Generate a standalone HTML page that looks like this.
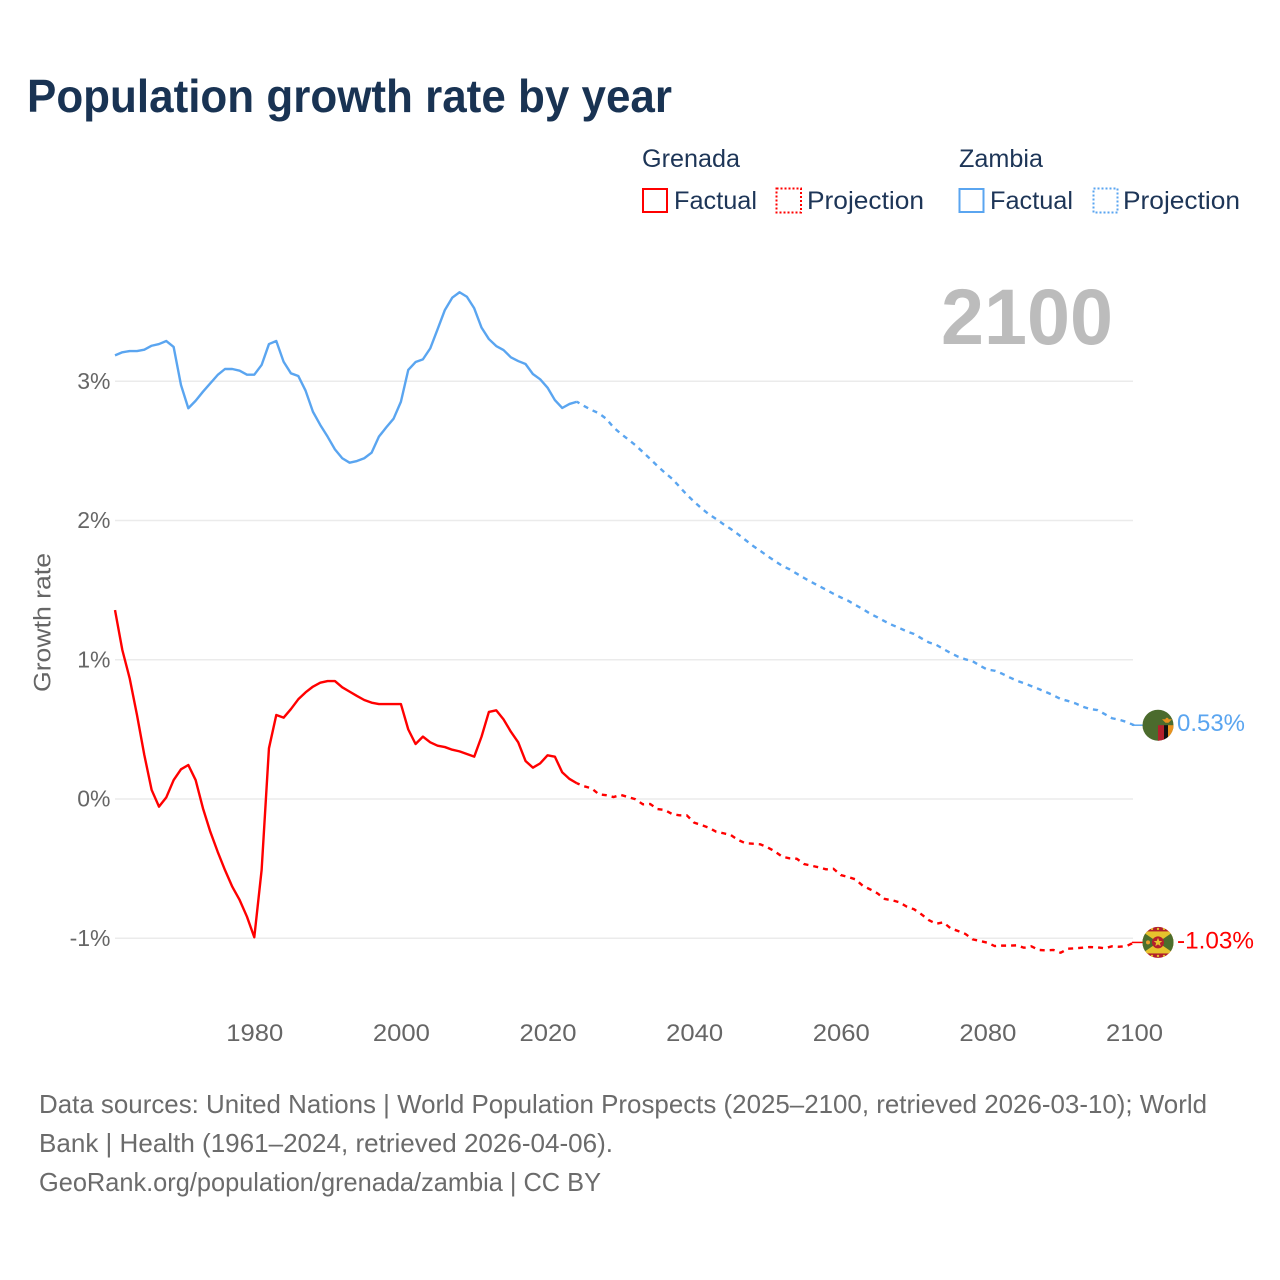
<!DOCTYPE html>
<html lang="en">
<head>
<meta charset="utf-8">
<title>Population growth rate by year</title>
<style>
html,body{margin:0;padding:0;background:#fff;}
svg{display:block;font-family:"Liberation Sans",sans-serif;}
</style>
</head>
<body>
<svg id="chart" width="1280" height="1280" viewBox="0 0 1280 1280" xmlns="http://www.w3.org/2000/svg">
  <defs>
    <clipPath id="flag-clip"><circle cx="0" cy="0" r="15.5"></circle></clipPath>
  </defs>
  <rect x="0" y="0" width="1280" height="1280" fill="#fff"></rect>
  <text x="27" y="112" font-size="46" font-weight="700" fill="#193353" textLength="645" lengthAdjust="spacingAndGlyphs">Population growth rate by year</text>

  <g font-size="25" fill="#1d3557">
    <text x="642" y="167" textLength="98" lengthAdjust="spacingAndGlyphs">Grenada</text>
    <text x="959" y="167" textLength="84" lengthAdjust="spacingAndGlyphs">Zambia</text>
    <rect x="643" y="189" width="24" height="23" fill="none" stroke="#ff0000" stroke-width="2"></rect>
    <text x="674" y="209" textLength="83" lengthAdjust="spacingAndGlyphs">Factual</text>
    <rect x="776.5" y="188.5" width="24.5" height="24" fill="none" stroke="#ff0000" stroke-width="2" stroke-dasharray="2 2"></rect>
    <text x="807" y="209" textLength="117" lengthAdjust="spacingAndGlyphs">Projection</text>
    <rect x="959.5" y="189" width="24" height="23" fill="none" stroke="#5aa5f0" stroke-width="2"></rect>
    <text x="990" y="209" textLength="83" lengthAdjust="spacingAndGlyphs">Factual</text>
    <rect x="1093.5" y="188.5" width="24" height="24" fill="none" stroke="#5aa5f0" stroke-width="2" stroke-dasharray="2 2"></rect>
    <text x="1123" y="209" textLength="117" lengthAdjust="spacingAndGlyphs">Projection</text>
  </g>

  <g id="grid"></g>
  <g id="y-ticks"></g>
  <g id="x-ticks"></g>
  <text transform="translate(50.5,692) rotate(-90)" x="0" y="0" font-size="24" fill="#666" textLength="139" lengthAdjust="spacingAndGlyphs">Growth rate</text>
  <text x="941" y="344" font-size="79" font-weight="700" fill="#bcbcbc" textLength="172" lengthAdjust="spacingAndGlyphs">2100</text>

  <g id="series"></g>

  <g id="flag-zambia">
    <g clip-path="url(#flag-clip)">
      <rect x="-16" y="-16" width="32" height="32" fill="#4b6b2d"></rect>
      <rect x="0" y="0" width="6" height="16" fill="#b3202c"></rect>
      <rect x="6" y="0" width="4" height="16" fill="#111"></rect>
      <rect x="10" y="0" width="6" height="16" fill="#e8921f"></rect>
      <path d="M4 -6 L14 -6 L10.5 -2.5 L7.5 -2.5 Z" fill="#e8921f"></path>
      <circle cx="9" cy="-6" r="1.5" fill="#e8921f"></circle>
    </g>
  </g>
  <g id="flag-grenada">
    <g clip-path="url(#flag-clip)">
      <rect x="-16" y="-16" width="32" height="32" fill="#b3202c"></rect>
      <rect x="-16" y="-11" width="32" height="22" fill="#e6c32d"></rect>
      <path d="M-16 -11 L0 0 L-16 11 Z" fill="#4b6e2d"></path>
      <path d="M16 -11 L0 0 L16 11 Z" fill="#4b6e2d"></path>
      <circle cx="0" cy="0" r="6" fill="#b3202c"></circle>
      <path d="M0 -4.5 L1.3 -1.4 L4.3 -1.4 L1.9 0.6 L2.7 3.7 L0 2 L-2.7 3.7 L-1.9 0.6 L-4.3 -1.4 L-1.3 -1.4 Z" fill="#e6c32d"></path>
      <circle cx="-10" cy="0" r="2" fill="#e6a02d"></circle>
      <circle cx="0" cy="-13.5" r="1.2" fill="#e6c32d"></circle>
      <circle cx="-6" cy="-13.5" r="1.2" fill="#e6c32d"></circle>
      <circle cx="6" cy="-13.5" r="1.2" fill="#e6c32d"></circle>
      <circle cx="0" cy="13.5" r="1.2" fill="#e6c32d"></circle>
      <circle cx="-6" cy="13.5" r="1.2" fill="#e6c32d"></circle>
      <circle cx="6" cy="13.5" r="1.2" fill="#e6c32d"></circle>
    </g>
  </g>
  <text id="label-zambia" font-size="24" fill="#5aa5f0" textLength="68" lengthAdjust="spacingAndGlyphs">0.53%</text>
  <text id="label-grenada" font-size="24" fill="#ff0000" textLength="77" lengthAdjust="spacingAndGlyphs">-1.03%</text>

  <g font-size="26" fill="#6b6b6b">
    <text x="39" y="1113" textLength="1168" lengthAdjust="spacingAndGlyphs">Data sources: United Nations | World Population Prospects (2025–2100, retrieved 2026-03-10); World</text>
    <text x="39" y="1152" textLength="574" lengthAdjust="spacingAndGlyphs">Bank | Health (1961–2024, retrieved 2026-04-06).</text>
    <text x="39" y="1191" textLength="562" lengthAdjust="spacingAndGlyphs">GeoRank.org/population/grenada/zambia | CC BY</text>
  </g>
</svg>
<script>
const factualStartYear = 1961;
const projectionStartYear = 2024;

const zambiaFactual = [
  3.186,3.208,3.217,3.217,3.227,3.255,3.267,3.289,3.246,2.973,
  2.806,2.860,2.925,2.985,3.045,3.088,3.088,3.076,3.047,3.047,
  3.117,3.267,3.289,3.140,3.057,3.038,2.932,2.781,2.686,2.602,
  2.511,2.447,2.415,2.427,2.447,2.487,2.602,2.669,2.731,2.853,
  3.081,3.138,3.157,3.236,3.373,3.512,3.600,3.639,3.607,3.524,
  3.385,3.303,3.253,3.224,3.172,3.145,3.124,3.052,3.014,2.954,
  2.865,2.808,2.837,2.853
];
const zambiaProjection = [
  2.853,2.822,2.794,2.770,2.731,2.669,2.623,2.583,2.540,2.492,2.442,
  2.391,2.343,2.300,2.243,2.185,2.135,2.088,2.045,2.011,1.973,
  1.939,1.901,1.860,1.819,1.783,1.745,1.709,1.675,1.650,1.618,
  1.587,1.558,1.530,1.503,1.474,1.448,1.424,1.393,1.364,1.331,
  1.305,1.276,1.250,1.228,1.204,1.185,1.154,1.125,1.108,1.077,
  1.048,1.022,1.003,0.989,0.957,0.929,0.921,0.900,0.874,0.850,
  0.831,0.811,0.790,0.768,0.745,0.718,0.704,0.687,0.663,0.646,
  0.639,0.610,0.580,0.569,0.553,0.53
];
const grenadaFactual = [
  1.357,1.070,0.867,0.603,0.316,0.065,-0.055,0.012,0.136,0.213,
  0.244,0.136,-0.067,-0.235,-0.378,-0.510,-0.630,-0.725,-0.845,-0.993,
  -0.510,0.364,0.603,0.584,0.646,0.716,0.766,0.807,0.835,0.847,
  0.847,0.802,0.771,0.740,0.711,0.692,0.682,0.682,0.682,0.682,
  0.500,0.395,0.448,0.407,0.383,0.373,0.354,0.342,0.323,0.304,
  0.448,0.625,0.637,0.572,0.483,0.407,0.273,0.225,0.256,0.314,
  0.304,0.192,0.144,0.113
];
const grenadaProjection = [
  0.113,0.091,0.077,0.034,0.027,0.014,0.029,0.014,-0.002,-0.038,-0.036,
  -0.072,-0.079,-0.108,-0.117,-0.117,-0.170,-0.187,-0.206,-0.235,-0.246,
  -0.259,-0.294,-0.318,-0.321,-0.325,-0.347,-0.376,-0.414,-0.426,-0.429,
  -0.467,-0.479,-0.491,-0.505,-0.501,-0.546,-0.560,-0.577,-0.623,-0.649,
  -0.677,-0.718,-0.727,-0.742,-0.773,-0.792,-0.828,-0.869,-0.896,-0.886,
  -0.929,-0.948,-0.969,-1.008,-1.020,-1.032,-1.056,-1.053,-1.053,-1.051,
  -1.068,-1.058,-1.084,-1.087,-1.084,-1.104,-1.075,-1.072,-1.068,-1.063,
  -1.065,-1.072,-1.058,-1.061,-1.056,-1.03
];
const yTickValues = [3,2,1,0,-1];
const yTickLabels = ["3%","2%","1%","0%","-1%"];
const xTickValues = [1980,2000,2020,2040,2060,2080,2100];
const xTickLabels = ["1980","2000","2020","2040","2060","2080","2100"];

const SVG_NS = "http://www.w3.org/2000/svg";
function xScale(year){ return 115 + (year - 1961) * (1134 - 115) / (2100 - 1961); }
function yScale(value){ return 799 - value * 139.25; }

const gridGroup = document.getElementById("grid");
const yTickGroup = document.getElementById("y-ticks");
yTickValues.forEach(function(v, i){
  const line = document.createElementNS(SVG_NS, "line");
  
  
  line.setAttribute("x1", 115);
  line.setAttribute("x2", 1133);
  line.setAttribute("y1", yScale(v));
  line.setAttribute("y2", yScale(v));
  line.setAttribute("stroke", "#ebebeb");
  line.setAttribute("stroke-width", "1.5");
  gridGroup.appendChild(line);
  const t = document.createElementNS(SVG_NS, "text");
  
  
  t.setAttribute("x", 110.5);
  t.setAttribute("y", yScale(v) + 7.5);
  t.setAttribute("text-anchor", "end");
  t.setAttribute("font-size", "23");
  t.setAttribute("fill", "#666");
  t.textContent = yTickLabels[i];
  yTickGroup.appendChild(t);
});

const xTickGroup = document.getElementById("x-ticks");
xTickValues.forEach(function(y, i){
  const t = document.createElementNS(SVG_NS, "text");
  
  
  t.setAttribute("x", xScale(y) + 0.5);
  t.setAttribute("y", 1041);
  t.setAttribute("text-anchor", "middle");
  t.setAttribute("font-size", "24");
  t.setAttribute("fill", "#666");
  t.setAttribute("textLength", "57");
  t.setAttribute("lengthAdjust", "spacingAndGlyphs");
  t.textContent = xTickLabels[i];
  xTickGroup.appendChild(t);
});

function pathFrom(values, startYear){
  return values.map(function(v, i){
    return (i ? "L" : "M") + xScale(startYear + i).toFixed(2) + " " + yScale(v).toFixed(2);
  }).join(" ");
}

const seriesGroup = document.getElementById("series");
function addLine(values, startYear, color, dashed, name){
  const p = document.createElementNS(SVG_NS, "path");
  
  
  p.setAttribute("d", pathFrom(values, startYear));
  p.setAttribute("fill", "none");
  p.setAttribute("stroke", color);
  p.setAttribute("stroke-width", "2.4");
  p.setAttribute("stroke-linejoin", "round");
  if (dashed) {
    p.setAttribute("stroke-dasharray", "5 5");
    p.setAttribute("stroke-dashoffset", "2");
  }
  seriesGroup.appendChild(p);
}
addLine(zambiaFactual, factualStartYear, "#5aa5f0", false, "line-zambia-factual");
addLine(zambiaProjection, projectionStartYear, "#5aa5f0", true, "line-zambia-projection");
addLine(grenadaFactual, factualStartYear, "#ff0000", false, "line-grenada-factual");
addLine(grenadaProjection, projectionStartYear, "#ff0000", true, "line-grenada-projection");

const endYear = projectionStartYear + zambiaProjection.length - 1;
const zambiaEnd = zambiaProjection[zambiaProjection.length - 1];
const grenadaEnd = grenadaProjection[grenadaProjection.length - 1];

function addConnector(value, color, name){
  const c = document.createElementNS(SVG_NS, "line");
  
  
  c.setAttribute("x1", xScale(endYear) - 2);
  c.setAttribute("x2", xScale(endYear) + 9);
  c.setAttribute("y1", yScale(value));
  c.setAttribute("y2", yScale(value));
  c.setAttribute("stroke", color);
  c.setAttribute("stroke-width", "1.5");
  seriesGroup.appendChild(c);
}
addConnector(zambiaEnd, "#5aa5f0", "end-connector-zambia");
addConnector(grenadaEnd, "#ff0000", "end-connector-grenada");

document.getElementById("flag-zambia").setAttribute("transform", "translate(" + (xScale(endYear) + 24) + "," + yScale(zambiaEnd) + ")");
document.getElementById("flag-grenada").setAttribute("transform", "translate(" + (xScale(endYear) + 24) + "," + yScale(grenadaEnd) + ")");
const lz = document.getElementById("label-zambia");
lz.setAttribute("x", xScale(endYear) + 43);
lz.setAttribute("y", yScale(zambiaEnd) + 6);
const lg = document.getElementById("label-grenada");
lg.setAttribute("x", xScale(endYear) + 43);
lg.setAttribute("y", yScale(grenadaEnd) + 6);
</script>
</body>
</html>
